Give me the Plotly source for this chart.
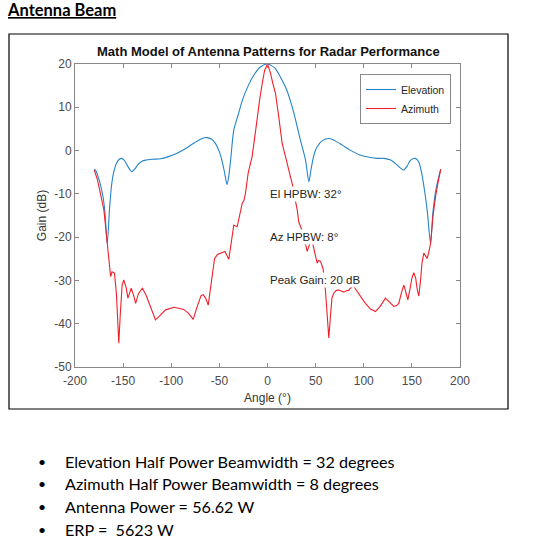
import plotly.graph_objects as go

W, H = 542, 545

# elevation pattern (angle in deg, gain in dB)
el_angle = [-180, -178, -176.6, -174, -171, -169, -166.5, -164, -162, -160, -157, -154, -152,
            -149, -146, -143, -141, -138, -134, -130, -127, -120, -111, -103, -94, -85, -76,
            -68, -63, -58, -54, -50, -47, -44.5, -42, -40, -38, -35, -30, -26, -20, -14, -8,
            0, 8, 15, 20, 27, 34, 39.5, 43, 45.5, 48.5, 51.6, 57, 64, 70, 78, 86, 96, 107,
            114, 121, 128, 134, 138, 141.6, 145, 148, 151, 153.8, 157, 160, 163, 166, 169.4,
            172, 175, 178, 180]
el_gain = [-4.3, -4.8, -5.6, -7.5, -10.5, -14, -21.5, -13, -8, -5.2, -3.0, -2.0, -1.8,
           -2.2, -3.3, -4.4, -4.9, -4.3, -3.1, -2.4, -2.2, -2.0, -1.9, -1.4, -0.6, 0.5, 1.8,
           2.8, 3.0, 2.6, 1.6, -0.3, -2.6, -5.2, -7.9, -5.5, -1.5, 4.8, 8.6, 11.7, 15.0, 17.5, 19.2,
           20, 19.0, 16.3, 14.0, 9.0, 2.6, -2.2, -7.2, -4.0, -0.8, 0.9, 2.3, 2.8, 2.3, 1.2, 0.1, -1.0, -1.6,
           -1.8, -1.8, -2.2, -3.2, -4.0, -4.5, -3.6, -2.4, -1.9, -1.8, -2.6, -5.0, -9.0, -14.0, -21.5,
           -14.0, -9.0, -6.0, -4.3]

# azimuth pattern
az_angle = [-180, -177, -174, -170, -168, -166.5, -164.5, -163, -161.5, -159, -157, -155.5,
            -154.5, -153, -151, -149.3, -147, -145, -143, -141.6, -139, -137, -134, -130, -126,
            -121, -116.4, -112, -106, -97, -87, -82, -77.2, -73, -69, -66.8, -64, -61.6, -58, -55,
            -52, -48.8, -44.3, -40.2, -37, -35, -31.5, -29.8, -28, -26.3, -24.5, -22.9, -20.1, -18,
            -16, -13, -10.7, -8, -5.5, -3, 0, 3, 5.5, 8.3, 11.7, 15.2, 18.7, 21, 23.9, 26, 28,
            30.9, 32.5, 34, 36, 38, 40, 41.2, 42.5, 43.5, 45.5, 47, 48.1, 50, 51.6, 53, 55.1, 56.5,
            57.8, 59, 60.3, 62, 63.7, 65.5, 67, 68.9, 71.5, 74.1, 77, 79.3, 82, 84.4, 86, 89, 91,
            93.2, 97, 101.8, 107, 112.2, 117, 122.6, 127, 131.2, 134, 136.4, 139, 141.6, 143.5,
            145.8, 148, 150, 152, 154, 155.5, 157.2, 159, 160.5, 162.4, 164, 165.9, 167.5, 169.4,
            172, 175, 178, 180]
az_gain = [-4.5, -6.5, -9.5, -13.7, -18, -21.5, -26, -29.1, -28, -28.3, -33, -40,
           -44.5, -38, -31, -29.9, -31.5, -34.1, -32.5, -31.8, -33.5, -35.3, -33, -31.8, -33.5,
           -36.5, -39.1, -38.2, -36.8, -36.2, -36.7, -37.6, -39, -36, -33.5, -33.3, -34.2, -35.7, -30, -25,
           -24, -23.7, -23.3, -25.1, -20, -17.2, -17.6, -16, -13.7, -12.2, -11.5, -9.9, -5.2, -3.5,
           -1.4, 3.5, 7.8, 12, 15.5, 18.5, 20, 18, 15.5, 13.2, 7.8, 1.7, -1.4, -3.5, -6, -8, -10.5,
           -13.7, -16.5, -17.5, -18.5, -21, -22, -23.3, -22.5, -21.5, -20.5, -21.5, -22.6, -24.5, -26, -25.4, -25.6, -26.5,
           -27.4, -30, -32.6, -38, -43.3, -38, -34, -32.9, -32.3, -32.2, -32.5, -32.7, -32.4, -32.3, -31.8, -31.3, -31.8,
           -32.6, -33.8, -35.3, -36.6, -37.2, -36, -34.1, -35, -36, -35.8, -35.3, -33, -31.1, -32.5,
           -34.5, -32, -29.5, -28.2, -29.5, -32, -33.6, -30, -26, -23.7, -24.3, -24.9, -23.5, -21.5,
           -15, -10, -6.5, -4.3]

x_ticks = [-200, -150, -100, -50, 0, 50, 100, 150, 200]
x_labels = ["-200", "-150", "-100", "-50", "0", "50", "100", "150", "200"]
y_ticks = [-50, -40, -30, -20, -10, 0, 10, 20]
y_labels = ["-50", "-40", "-30", "-20", "-10", "0", "10", "20"]

notes = ["El HPBW: 32°", "Az HPBW: 8°", "Peak Gain: 20 dB"]
note_y = [-10, -20, -30]

bullets = ["Elevation Half Power Beamwidth = 32 degrees",
           "Azimuth Half Power Beamwidth = 8 degrees",
           "Antenna Power = 56.62 W",
           "ERP =  5623 W"]


def px(x):
    return x / W


def py(y):
    return 1 - y / H


fig = go.Figure()
fig.add_trace(go.Scatter(x=el_angle, y=el_gain, mode="lines", name="Elevation",
                         line=dict(color="#2384c8", width=1.1, shape="spline", smoothing=0.7)))
fig.add_trace(go.Scatter(x=az_angle, y=az_gain, mode="lines", name="Azimuth",
                         line=dict(color="#f0202a", width=1.1)))

axis_font = dict(family="Liberation Sans, Arial", size=12, color="#4a4a4a")
fig.update_xaxes(domain=[px(75), px(460)], range=[-200, 200], tickvals=x_ticks, ticktext=x_labels,
                 automargin=False, ticks="inside", ticklen=4, tickcolor="#888", showline=True,
                 linecolor="#888", mirror="ticks", showgrid=False, zeroline=False, tickfont=axis_font,
                 ticklabelstandoff=3,
                 title=dict(text="Angle (°)", font=dict(family="Liberation Sans, Arial", size=12, color="#333"),
                            standoff=6))
fig.update_yaxes(domain=[py(367), py(64)], range=[-50, 20], tickvals=y_ticks, ticktext=y_labels,
                 automargin=False, ticks="inside", ticklen=4, tickcolor="#888", showline=True,
                 linecolor="#888", mirror="ticks", showgrid=False, zeroline=False, tickfont=axis_font,
                 title=dict(text="Gain (dB)", font=dict(family="Liberation Sans, Arial", size=12, color="#333"),
                            standoff=5))

for t, yv in zip(notes, note_y):
    fig.add_annotation(x=0, y=yv, xref="x", yref="y", text=t, showarrow=False,
                       xanchor="left", yanchor="middle", bgcolor="white", borderpad=1,
                       font=dict(family="Liberation Sans, Arial", size=11.5, color="#262626"))

fig.add_annotation(x=px(268), y=py(51), xref="paper", yref="paper", showarrow=False,
                   text="<b>Math Model of Antenna Patterns for Radar Performance</b>",
                   font=dict(family="Liberation Sans, Arial", size=13, color="#111"),
                   xanchor="center", yanchor="middle")

fig.add_annotation(x=px(5), y=py(10), xref="paper", yref="paper", showarrow=False,
                   text="<b><u>Antenna Beam</u></b>", xanchor="left", yanchor="middle",
                   font=dict(family="Lato, Noto Sans", size=16.5, color="#000"))

for i, b in enumerate(bullets):
    yy = py(461 + i * 22.7)
    fig.add_annotation(x=px(36), y=yy, xref="paper", yref="paper", showarrow=False,
                       text="•", xanchor="left", yanchor="middle",
                       font=dict(family="Lato, Noto Sans", size=14, color="#000"))
    fig.add_annotation(x=px(63), y=yy, xref="paper", yref="paper", showarrow=False,
                       text=b, xanchor="left", yanchor="middle",
                       font=dict(family="Lato, Noto Sans", size=16.2, color="#000"))

# frame of the embedded figure
fig.add_shape(type="rect", xref="paper", yref="paper", x0=px(9), x1=px(508), y0=py(409), y1=py(34),
              line=dict(color="black", width=1.2))

fig.update_layout(width=W, height=H, margin=dict(l=0, r=0, t=0, b=0),
                  paper_bgcolor="white", plot_bgcolor="white",
                  legend=dict(x=px(360), y=py(74), xanchor="left", yanchor="top",
                              bgcolor="white", bordercolor="#888", borderwidth=1,
                              font=dict(family="Liberation Sans, Arial", size=10.5, color="#262626"),
                              tracegroupgap=0, itemwidth=30))

# the page's default body margin would shift the whole figure by 8px
fig.write_html("out.html", config={"displayModeBar": False},
               post_script="document.body.style.margin='0';")
